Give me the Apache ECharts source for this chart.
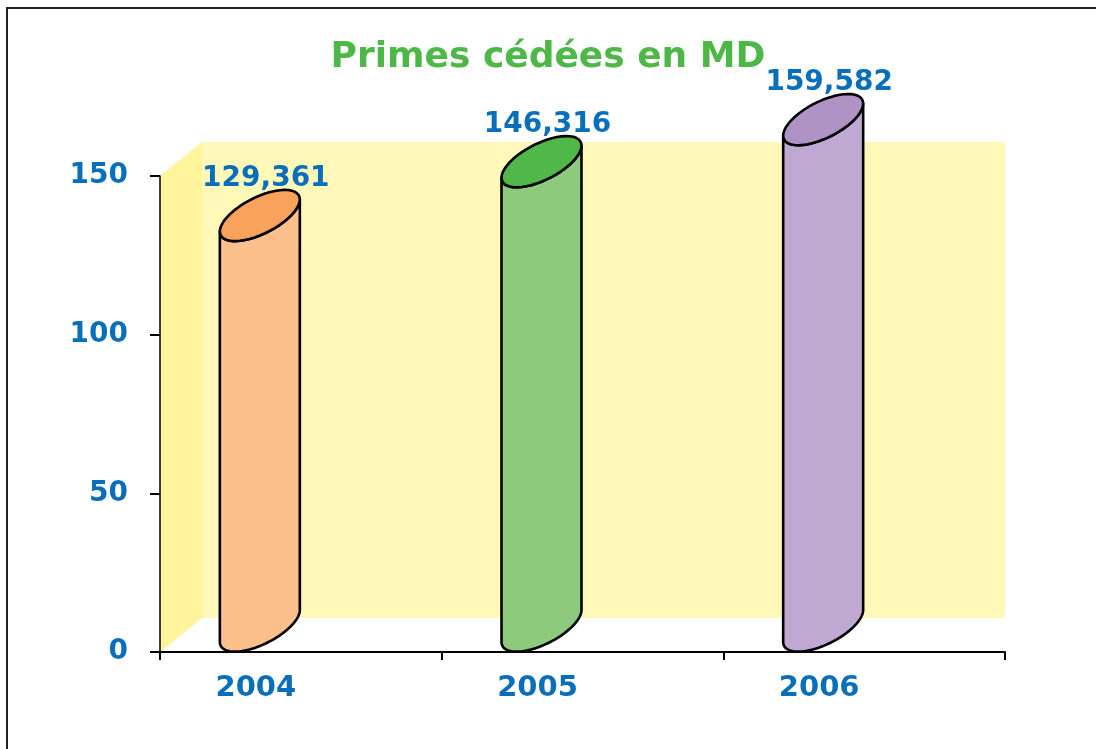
<!DOCTYPE html>
<html>
<head>
<meta charset="utf-8">
<script src="https://cdn.jsdelivr.net/npm/echarts@6/dist/echarts.min.js"></script>
<style>
  html, body { margin: 0; background: #fff; }
  #chart { width: 1096px; height: 749px; }
</style>
</head>
<body>
<div id="chart"></div>
<script>
// données (MD)
const years = ['2004', '2005', '2006']
const primes = [129.361, 146.316, 159.582]
const yTicks = [0, 50, 100, 150]

const bodyColors = ['#fabf8a', '#8dca7b', '#bfa8d2']
const topColors = ['#f8a25b', '#4fb848', '#ae93c4']
const blue = '#0a6fba'
const green = '#4db848'
const ff = '"DejaVu Sans", sans-serif'

const yMin = yTicks[0]
const yMax = yTicks[yTicks.length - 1]
const yStep = yTicks[1] - yTicks[0]
const fmt = v => v.toFixed(3).replace('.', ',')

// profondeur 3D (px)
const depthX = 42
const depthY = 34

const chart = echarts.init(document.getElementById('chart'))

// murs du fond et de gauche
function renderWalls(params, api) {
  const cs = params.coordSys
  const x0 = cs.x
  const x1 = cs.x + cs.width
  const yb = api.coord([0, yMin])[1]
  const yt = api.coord([0, yMax])[1]
  return {
    type: 'group',
    children: [{
      type: 'rect',
      shape: { x: x0 + depthX, y: yt - depthY, width: x1 - x0 - depthX, height: yb - yt },
      style: { fill: '#fff8b9' }
    }, {
      type: 'polygon',
      shape: { points: [[x0, yb], [x0, yt], [x0 + depthX, yt - depthY], [x0 + depthX, yb - depthY]] },
      style: { fill: '#fff49b' }
    }]
  }
}

// cylindre : ellipse cisaillée x = cx + a cos t, y = cy - c cos t + b sin t
function renderCylinder(params, api) {
  const i = api.value(0)
  const v = api.value(1)
  const base = api.coord([i, yMin])
  const top = api.coord([i, v])
  const a = api.size([1, 0])[0] * 0.142
  const b = 20
  const c = 16
  const cx = base[0] + 4
  const by = base[1] - 26
  const ty = top[1] - 26
  const n = 48
  const arc = (cy, t0, t1) => {
    const pts = []
    for (let k = 0; k <= n; k++) {
      const t = t0 + (t1 - t0) * k / n
      pts.push([cx + a * Math.cos(t), cy - c * Math.cos(t) + b * Math.sin(t)])
    }
    return pts
  }
  const body = [[cx - a, ty + c]]
    .concat(arc(by, Math.PI, 0))
    .concat(arc(ty, 0, Math.PI))
  const cap = arc(ty, 0, Math.PI * 2)
  const line = { stroke: '#000', lineWidth: 2.6, lineJoin: 'round' }
  return {
    type: 'group',
    children: [{
      type: 'polygon',
      shape: { points: body },
      style: Object.assign({ fill: bodyColors[i] }, line)
    }, {
      type: 'polygon',
      shape: { points: cap },
      style: Object.assign({ fill: topColors[i] }, line)
    }, {
      type: 'text',
      style: {
        text: fmt(v),
        x: cx + 6,
        y: ty - 37,
        align: 'center',
        verticalAlign: 'middle',
        fill: blue,
        font: 'bold 28px ' + ff
      }
    }]
  }
}

chart.setOption({
  animation: false,
  title: {
    text: 'Primes cédées en MD',
    left: 'center',
    top: 35,
    padding: [5, 5, 5, 21],
    textStyle: { color: green, fontFamily: ff, fontWeight: 'bold', fontSize: 36 }
  },
  graphic: [{
    type: 'polyline',
    shape: { points: [[7, 760], [7, 8], [1110, 8]] },
    style: { fill: null, stroke: '#222', lineWidth: 2 },
    z: 100
  }],
  grid: [
    { left: 160, right: 91, top: 176, bottom: 97 },
    { left: 115, right: 136, top: 176, bottom: 97 }
  ],
  xAxis: [{
    type: 'category',
    gridIndex: 0,
    data: years,
    z: 10,
    axisLine: { lineStyle: { color: '#000', width: 2 } },
    axisTick: { show: true, length: 8, interval: 0, lineStyle: { color: '#000', width: 2 } },
    axisLabel: { show: false }
  }, {
    type: 'category',
    gridIndex: 1,
    data: years,
    axisLine: { show: false },
    axisTick: { show: false },
    axisLabel: { margin: 22, color: blue, fontFamily: ff, fontWeight: 'bold', fontSize: 29 }
  }],
  yAxis: [{
    type: 'value',
    gridIndex: 0,
    min: yMin,
    max: yMax,
    interval: yStep,
    z: 10,
    axisLine: { show: true, lineStyle: { color: '#000', width: 1.5 } },
    axisTick: { show: true, length: 10, lineStyle: { color: '#000', width: 2 } },
    splitLine: { show: false },
    axisLabel: { margin: 32, color: blue, fontFamily: ff, fontWeight: 'bold', fontSize: 28 }
  }, {
    type: 'value',
    gridIndex: 1,
    min: yMin,
    max: yMax,
    interval: yStep,
    show: false,
    splitLine: { show: false }
  }],
  series: [{
    type: 'custom',
    name: 'murs',
    xAxisIndex: 0,
    yAxisIndex: 0,
    z: 1,
    silent: true,
    renderItem: renderWalls,
    data: [[0, 0]]
  }, {
    type: 'custom',
    name: 'Primes cédées',
    xAxisIndex: 1,
    yAxisIndex: 1,
    z: 3,
    clip: false,
    renderItem: renderCylinder,
    data: primes.map((v, i) => [i, v])
  }]
})
</script>
</body>
</html>
